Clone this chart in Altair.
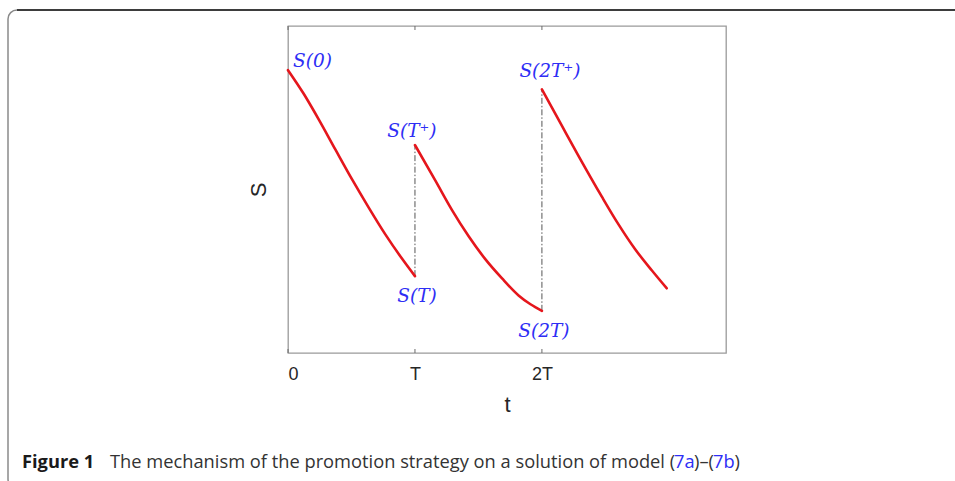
import altair as alt
import pandas as pd

# Solution S(t) between promotions, t in units of the period T
seg1_t = [0.0, 0.12, 0.244, 0.375, 0.506, 0.637, 0.768, 0.899, 1.0]
seg1_s = [0.865, 0.795, 0.713, 0.621, 0.530, 0.444, 0.362, 0.288, 0.235]

seg2_t = [1.0, 1.161, 1.292, 1.423, 1.554, 1.686, 1.816, 1.91, 2.0]
seg2_s = [0.636, 0.527, 0.437, 0.357, 0.287, 0.228, 0.176, 0.149, 0.129]

seg3_t = [2.0, 2.157, 2.288, 2.472, 2.602, 2.733, 2.865, 2.983]
seg3_s = [0.806, 0.695, 0.603, 0.478, 0.394, 0.318, 0.253, 0.198]

tick_values = [0, 1, 2]
tick_labels = ["0", "T", "2T"]

rows = []
for name, ts, ss in [("s1", seg1_t, seg1_s), ("s2", seg2_t, seg2_s), ("s3", seg3_t, seg3_s)]:
    for t, s in zip(ts, ss):
        rows.append({"seg": name, "t": t, "S": s})
curve = pd.DataFrame(rows)

# jumps caused by the promotion at t = T and t = 2T
jumps = pd.DataFrame({
    "t": [seg1_t[-1], seg2_t[-1]],
    "lo": [seg1_s[-1], seg2_s[-1]],
    "hi": [seg2_s[0], seg3_s[0]],
})

W, H = 438, 327
BLUE = "#2e2ef5"
RED = "#e5161c"

x_scale = alt.Scale(domain=[0, 3.45], nice=False, zero=False)
y_scale = alt.Scale(domain=[0, 1], nice=False)

label_expr = " : ".join(
    f"datum.value == {v} ? '{lab}'" for v, lab in zip(tick_values, tick_labels)
) + " : ''"

x_axis = alt.Axis(
    values=tick_values, labelExpr=label_expr, title="t", grid=False, domain=False,
    ticks=False, labelFont="Liberation Sans", labelFontSize=18, labelColor="#262626",
    labelPadding=12, titleFont="Liberation Sans", titleFontSize=22,
    titleFontWeight="normal", titleColor="#262626", titlePadding=11,
)
y_axis = alt.Axis(
    title="S", labels=False, ticks=False, domain=False, grid=False,
    titleFont="Liberation Sans", titleFontSize=22, titleFontWeight="normal",
    titleColor="#262626", titlePadding=18,
)

line = alt.Chart(curve).mark_line(
    color=RED, strokeWidth=2.6, strokeCap="round", interpolate="monotone"
).encode(
    x=alt.X("t:Q", scale=x_scale, axis=x_axis),
    y=alt.Y("S:Q", scale=y_scale, axis=y_axis),
    detail="seg:N",
)

jump_rules = alt.Chart(jumps).mark_rule(
    color="#555555", strokeWidth=1, strokeDash=[6, 2, 1.5, 2]
).encode(
    x=alt.X("t:Q", scale=x_scale),
    y=alt.Y("lo:Q", scale=y_scale),
    y2="hi:Q",
)

ticks_df = pd.DataFrame({"t": tick_values})
bottom_ticks = alt.Chart(ticks_df).mark_rule(color="#6b6b6b", strokeWidth=1).encode(
    x=alt.X("t:Q", scale=x_scale), y=alt.value(H), y2=alt.value(H - 4)
)
top_ticks = alt.Chart(ticks_df).mark_rule(color="#6b6b6b", strokeWidth=1).encode(
    x=alt.X("t:Q", scale=x_scale), y=alt.value(0), y2=alt.value(4)
)

# point annotations: (text, t, S, dx, dy, align)
annotations = [
    ("S(0)", seg1_t[0], seg1_s[0], 5, -9, "left"),
    ("S(T\u207a)", seg2_t[0], seg2_s[0], -3, -14, "center"),
    ("S(T)", seg1_t[-1], seg1_s[-1], 2, 20, "center"),
    ("S(2T)", seg2_t[-1], seg2_s[-1], 2, 20, "center"),
    ("S(2T\u207a)", seg3_t[0], seg3_s[0], 8, -18, "center"),
]
ann_layers = []
for txt, t, s, dx, dy, al in annotations:
    ann_layers.append(
        alt.Chart(pd.DataFrame({"t": [t], "S": [s], "txt": [txt]})).mark_text(
            font="DejaVu Serif", fontStyle="italic", fontSize=18.5, color=BLUE,
            dx=dx, dy=dy, align=al, baseline="middle",
        ).encode(
            x=alt.X("t:Q", scale=x_scale), y=alt.Y("S:Q", scale=y_scale), text="txt:N"
        )
    )

one = pd.DataFrame({"k": [0]})

# figure panel border
panel = alt.Chart(one).mark_rect(
    fill=None, stroke="#8a8a8a", strokeWidth=1.5, cornerRadius=9
).encode(x=alt.value(-280), x2=alt.value(690), y=alt.value(-16), y2=alt.value(462))
panel_top = alt.Chart(one).mark_rule(color="#1a1a1a", strokeWidth=1.5).encode(
    x=alt.value(-271), x2=alt.value(690), y=alt.value(-16)
)

# caption
CAP_Y = 468 - 26
cap_font = "Open Sans"
caption_parts = [
    ("Figure 1", 22, "bold", "#1a1a1a"),
    ("The mechanism of the promotion strategy on a solution of model (", 110, "normal", "#333333"),
    ("7a", 674, "normal", BLUE),
    (")\u2013(", 694, "normal", "#333333"),
    ("7b", 713, "normal", BLUE),
    (")", 734.5, "normal", "#333333"),
]
cap_layers = []
for txt, px, fw, col in caption_parts:
    cap_layers.append(
        alt.Chart(one).mark_text(
            text=txt, font=cap_font, fontSize=18.3, fontWeight=fw, color=col,
            align="left", baseline="alphabetic",
        ).encode(x=alt.value(px - 288), y=alt.value(CAP_Y))
    )

chart = alt.layer(
    panel, panel_top, jump_rules, line, bottom_ticks, top_ticks, *ann_layers, *cap_layers
).properties(
    width=W, height=H,
    autosize=alt.AutoSizeParams(type="none"),
    padding={"left": 288, "top": 26, "right": 229, "bottom": 128},
    background="white",
).configure_view(stroke="#9a9a9a", strokeWidth=1.3)

chart.save("out.html", embed_options={"renderer": "svg", "actions": False})
